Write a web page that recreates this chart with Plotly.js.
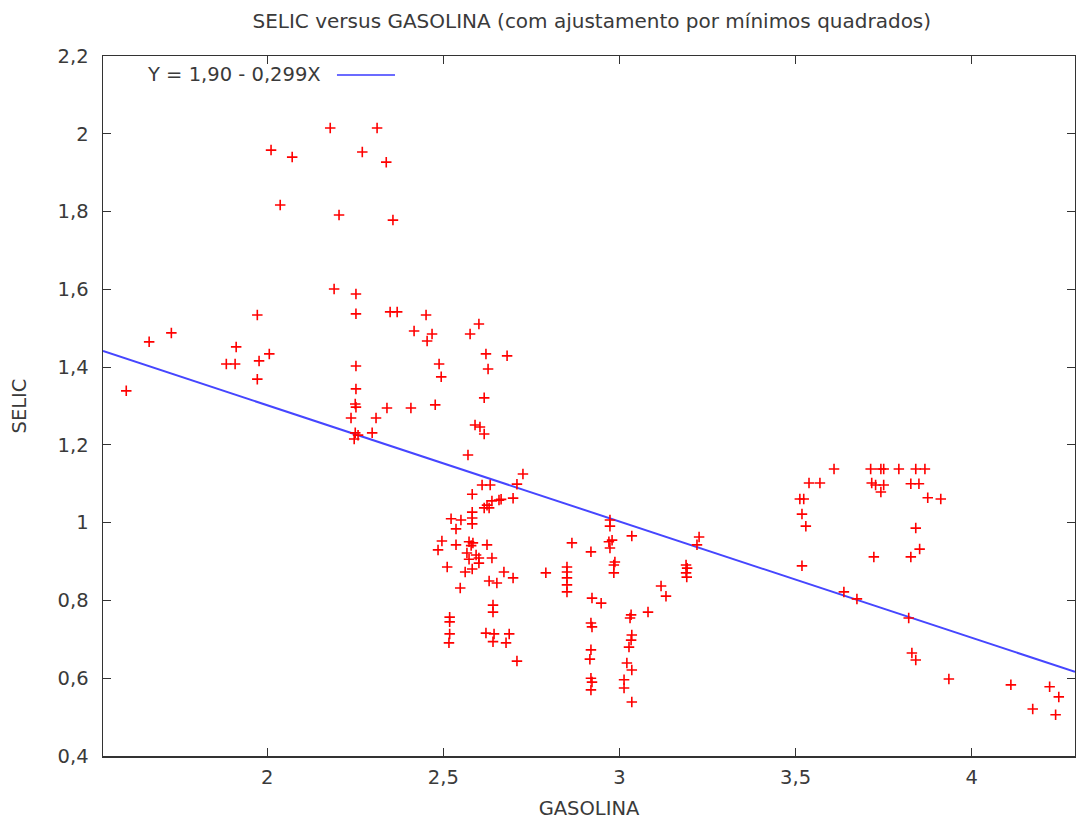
<!DOCTYPE html>
<html>
<head>
<meta charset="utf-8">
<script src="https://cdn.plot.ly/plotly-3.0.1.min.js"></script>
<style>html,body{margin:0;padding:0;background:#fff;}#chart{width:1076px;height:820px;}</style>
</head>
<body>
<div id="chart"></div>
<script>
const gasolina = [
2.179,2.312,2.011,2.071,2.270,2.338,2.037,2.204,2.357,
2.190,2.252,2.252,2.349,2.369,2.451,2.417,2.454,1.972,1.728,1.665,1.912,2.006,1.977,1.884,1.909,1.972,1.600,
2.252,2.252,2.250,2.252,2.340,2.408,2.238,2.309,2.298,2.250,2.258,2.247,
2.468,2.601,2.576,2.488,2.494,2.621,2.681,2.627,2.616,2.477,2.590,2.604,2.616,2.570,2.726,
2.709,2.610,2.633,2.582,2.698,2.658,2.664,2.638,2.624,2.616,2.630,2.582,2.582,2.522,2.550,2.582,2.536,2.496,2.485,2.536,2.573,2.584,2.579,2.624,2.567,2.593,2.601,2.638,2.573,2.601,2.511,2.562,2.582,2.672,2.698,2.630,2.652,2.548,2.641,2.641,2.518,2.518,2.518,2.516,2.621,2.644,2.641,2.687,2.678,2.709,
2.791,2.851,2.851,2.851,2.851,2.851,2.865,2.919,2.973,2.973,2.979,2.970,2.973,3.035,2.987,2.984,2.984,2.922,2.948,2.919,2.922,2.919,2.916,2.919,2.922,2.919,3.033,3.030,3.035,3.033,3.027,3.021,3.035,3.013,3.013,3.035,3.081,3.118,3.132,3.189,3.192,3.189,3.191,3.226,3.220,
3.609,3.713,3.742,3.750,3.793,3.841,3.867,3.538,3.569,3.716,3.727,3.750,3.742,3.827,3.850,3.875,3.912,3.512,3.523,3.518,3.529,3.841,3.852,3.827,3.722,3.518,3.637,3.674,3.821,3.830,3.841,3.935,4.111,4.221,4.247,4.173,4.238
];
const selic = [
2.015,2.015,1.958,1.940,1.953,1.927,1.817,1.791,1.778,
1.601,1.588,1.537,1.542,1.542,1.534,1.493,1.467,1.534,1.488,1.465,1.452,1.434,1.416,1.408,1.408,1.369,1.339,
1.403,1.344,1.305,1.297,1.295,1.295,1.269,1.269,1.231,1.231,1.225,1.215,
1.485,1.511,1.485,1.408,1.375,1.434,1.429,1.395,1.321,1.303,1.251,1.246,1.228,1.174,1.125,
1.099,1.097,1.097,1.073,1.063,1.058,1.060,1.056,1.045,1.038,1.038,1.027,1.012,1.010,1.007,0.997,0.984,0.953,0.930,0.943,0.951,0.948,0.941,0.943,0.922,0.917,0.909,0.909,0.906,0.896,0.886,0.873,0.881,0.873,0.858,0.850,0.845,0.832,0.788,0.770,0.757,0.745,0.714,0.691,0.716,0.714,0.694,0.714,0.691,0.644,
0.871,0.886,0.873,0.858,0.840,0.822,0.948,0.925,1.007,0.991,0.955,0.951,0.935,0.966,0.899,0.891,0.871,0.806,0.793,0.742,0.732,0.673,0.649,0.600,0.590,0.570,0.763,0.755,0.711,0.698,0.680,0.639,0.621,0.596,0.575,0.539,0.770,0.837,0.811,0.891,0.883,0.871,0.860,0.963,0.943,
1.138,1.138,1.138,1.138,1.138,1.138,1.138,1.102,1.102,1.102,1.097,1.097,1.079,1.100,1.100,1.064,1.061,1.061,1.061,1.022,0.991,0.986,0.932,0.912,0.912,0.889,0.822,0.804,0.755,0.665,0.647,0.598,0.583,0.578,0.552,0.521,0.506
];
const fitIntercept = 1.90;
const fitSlope = -0.299;
const xRange = [1.534, 4.293];
const yRange = [0.4, 2.2];
const legendText = "Y = 1,90 - 0,299X";

const fitX = xRange.slice();
const fitY = fitX.map(x => fitIntercept + fitSlope * x);

const txt = '#3a3a3a';
const fontFam = 'DejaVu Sans, Verdana, sans-serif';
const fs = 19.5;

const data = [
  {x: fitX, y: fitY, type: 'scatter', mode: 'lines',
   line: {color: '#4646ff', width: 2}, hoverinfo: 'skip', showlegend: false},
  {x: gasolina, y: selic, type: 'scatter', mode: 'markers',
   marker: {symbol: 'cross-thin-open', size: 7.5, color: 'red', line: {color: 'red', width: 1.6}},
   showlegend: false}
];

const axisCommon = {
  showgrid: false, zeroline: false, showline: true, linecolor: '#333', linewidth: 1.5,
  mirror: 'ticks', ticks: 'inside', ticklen: 8, tickwidth: 1, tickcolor: '#333',
  tickfont: {family: fontFam, size: fs, color: txt}
};

const layout = {
  width: 1076, height: 820,
  paper_bgcolor: '#fff', plot_bgcolor: '#fff',
  separators: ',.',
  margin: {l: 103, r: 1, t: 56, b: 64},
  font: {family: fontFam, color: txt},
  title: {text: 'SELIC versus GASOLINA (com ajustamento por mínimos quadrados)',
          font: {family: fontFam, size: 20, color: txt}, x: 0.55, xanchor: 'center', y: 0.975, yanchor: 'middle'},
  xaxis: Object.assign({}, axisCommon, {range: xRange, dtick: 0.5, tick0: 0, ticklabelstandoff: 3,
          title: {text: 'GASOLINA', font: {family: fontFam, size: fs, color: txt}, standoff: 15}}),
  yaxis: Object.assign({}, axisCommon, {range: yRange, dtick: 0.2, tick0: 0, ticklabelstandoff: 9,
          title: {text: 'SELIC', font: {family: fontFam, size: fs, color: txt}, standoff: 26}}),
  annotations: [
    {text: legendText, xref: 'paper', yref: 'paper', x: 0.2263, y: 0.973, xanchor: 'right', yanchor: 'middle',
     showarrow: false, font: {family: fontFam, size: fs, color: txt}}
  ],
  shapes: [
    {type: 'line', xref: 'paper', yref: 'paper', x0: 0.2407, x1: 0.3004, y0: 0.973, y1: 0.973,
     line: {color: '#6b6bff', width: 2}}
  ]
};

Plotly.newPlot('chart', data, layout, {displayModeBar: false, staticPlot: true});
</script>
</body>
</html>
